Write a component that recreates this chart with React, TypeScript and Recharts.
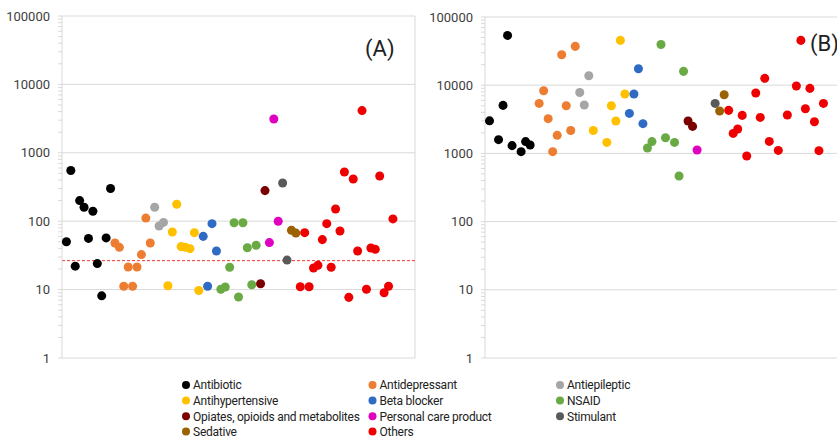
import React from "react";
import {
  ScatterChart,
  Scatter,
  XAxis,
  YAxis,
  ZAxis,
  CartesianGrid,
  ReferenceLine,
} from "recharts";

// ---------- data ----------
const categories = [
  "Antibiotic",
  "Antidepressant",
  "Antiepileptic",
  "Antihypertensive",
  "Beta blocker",
  "NSAID",
  "Opiates, opioids and metabolites",
  "Personal care product",
  "Stimulant",
  "Sedative",
  "Others",
];

const colors = [
  "#000000",
  "#ED7D31",
  "#A5A5A5",
  "#FFC000",
  "#2F6BC4",
  "#6AAA45",
  "#7A0000",
  "#E000C0",
  "#5A5A5A",
  "#9A6200",
  "#EE0000",
];

// Panel (A) values, consecutive samples per category
const antibioticA = [50, 550, 22, 200, 160, 56, 140, 24, 8.1, 57, 300];
const antidepressantA = [48, 41.5, 11.2, 21.4, 11.2, 21.4, 32.5, 111, 48];
const antiepilepticA = [160, 85, 96];
const antihypertensiveA = [11.4, 69.5, 177, 42.5, 41.5, 39.7, 68, 9.7];
const betaBlockerA = [60, 11.2, 92, 36.7];
const nsaidA = [10.1, 10.9, 21.2, 95, 7.8, 95, 41, 11.8, 44.5];
const opiatesA = [12.2, 280];
const personalCareA = [48.7, 3120, 100];
const stimulantA = [361, 27];
const sedativeA = [73.6, 67];
const othersA = [
  11, 68, 11, 20.7, 22.7, 53.8, 92, 21.2, 151, 72, 524, 7.7, 414, 36.7, 4140,
  10.1, 40.5, 38.8, 458, 9.0, 11.2, 108,
];

// Panel (B) values, same samples (null = not shown)
const antibioticB = [3000, null, 1590, 5060, 53700, 1300, null, 1060, 1490, 1330, null];
const antidepressantB = [5410, 8300, 3230, 1060, 1840, 28000, 5000, 2170, 37100];
const antiepilepticB = [7830, 5120, 13770];
const antihypertensiveB = [2170, null, null, 1450, 5000, 2990, 45400, 7430];
const betaBlockerB = [3860, 7430, 17460, 2730];
const nsaidB = [1200, 1490, null, 39600, 1700, null, 1450, 466, 15950];
const opiatesB = [2990, 2490];
const personalCareB = [1120, null, null];
const stimulantB = [null, 5410];
const sedativeB = [4190, 7260];
const othersB = [
  4275, 1963, 2280, 3610, 916, null, 7690, 3370, 12600, 1500, null, 1107, null,
  3656, null, 9730, 45400, 4520, 8980, 2917, 1097, 5410,
];

const seriesA = [
  antibioticA, antidepressantA, antiepilepticA, antihypertensiveA, betaBlockerA,
  nsaidA, opiatesA, personalCareA, stimulantA, sedativeA, othersA,
];
const seriesB = [
  antibioticB, antidepressantB, antiepilepticB, antihypertensiveB, betaBlockerB,
  nsaidB, opiatesB, personalCareB, stimulantB, sedativeB, othersB,
];

const thresholdA = 26.5;
const yMajor = [1, 10, 100, 1000, 10000, 100000];
const yTickLabels = ["1", "10", "100", "1000", "10000", "100000"];
const xDomain = [0, 80];
const panelLabels = ["(A)", "(B)"];

// ---------- helpers ----------
const yAll: number[] = [];
yMajor.forEach((d, i) => {
  if (i === yMajor.length - 1) {
    yAll.push(d);
  } else {
    for (let m = 1; m <= 9; m++) yAll.push(d * m);
  }
});

function buildData(series: (number | null)[][]) {
  let start = 1;
  return series.map((vals) => {
    const pts = vals
      .map((v, i) => (v == null ? null : { x: start + i, y: v }))
      .filter((p) => p !== null) as { x: number; y: number }[];
    start += vals.length;
    return pts;
  });
}

const dataA = buildData(seriesA);
const dataB = buildData(seriesB);

const FONT = "Roboto, 'Noto Sans', sans-serif";
const GRID = "#D9D9D9";

const YTick = (props: any) => {
  const { x, y, payload } = props;
  const idx = yMajor.indexOf(payload.value);
  if (idx < 0) return null;
  return (
    <text
      x={x}
      y={y}
      dy="0.36em"
      textAnchor="end"
      fill="#404040"
      fontSize={13}
      fontFamily={FONT}
    >
      {yTickLabels[idx]}
    </text>
  );
};

function Panel({
  data,
  width,
  height,
  margin,
  yWidth,
  showBorder,
  threshold,
}: {
  data: { x: number; y: number }[][];
  width: number;
  height: number;
  margin: any;
  yWidth: number;
  showBorder: boolean;
  threshold?: number;
}) {
  return (
    <ScatterChart width={width} height={height} margin={margin}>
      <CartesianGrid
        stroke={GRID}
        horizontalValues={yMajor}
        vertical={showBorder}
        verticalValues={showBorder ? [xDomain[1]] : undefined}
      />
      <XAxis type="number" dataKey="x" domain={xDomain} hide allowDataOverflow />
      <YAxis
        type="number"
        dataKey="y"
        scale="log"
        domain={[1, 100000]}
        allowDataOverflow
        ticks={yAll}
        interval={0}
        width={yWidth}
        tick={<YTick />}
        tickSize={4}
        tickMargin={8}
        tickLine={{ stroke: GRID }}
        axisLine={{ stroke: GRID }}
      />
      <ZAxis range={[64, 64]} />
      {threshold !== undefined && (
        <ReferenceLine
          y={threshold}
          stroke="#F03535"
          strokeDasharray="3 2"
          strokeWidth={1}
        />
      )}
      {data.map((pts, i) => (
        <Scatter
          key={categories[i]}
          name={categories[i]}
          data={pts}
          fill={colors[i]}
          isAnimationActive={false}
        />
      ))}
    </ScatterChart>
  );
}

const legendColX = [186, 372.5, 560];
const legendRowY = [385, 400.6, 416.2, 431.6];

export default function App() {
  return (
    <div
      style={{
        position: "absolute",
        left: 0,
        top: 0,
        width: 837,
        height: 437,
        overflow: "hidden",
        background: "#fff",
      }}
    >
      <div style={{ position: "absolute", left: 0, top: 0 }}>
        <Panel
          data={dataA}
          width={430}
          height={370}
          margin={{ top: 16, right: 15, bottom: 12, left: 0 }}
          yWidth={62}
          showBorder={true}
          threshold={thresholdA}
        />
      </div>
      <div style={{ position: "absolute", left: 420, top: 0 }}>
        <Panel
          data={dataB}
          width={430}
          height={370}
          margin={{ top: 17, right: 4, bottom: 12, left: 0 }}
          yWidth={65}
          showBorder={false}
        />
      </div>
      <svg
        width={837}
        height={437}
        style={{ position: "absolute", left: 0, top: 0, pointerEvents: "none" }}
      >
        <text x={365} y={56} fontSize={22} fontFamily={FONT} fill="#202020">
          {panelLabels[0]}
        </text>
        <text x={810} y={51} fontSize={22} fontFamily={FONT} fill="#202020">
          {panelLabels[1]}
        </text>
        {categories.map((name, i) => {
          const col = i % 3;
          const row = Math.floor(i / 3);
          const cx = legendColX[col];
          const cy = legendRowY[row];
          return (
            <g key={name}>
              <circle cx={cx} cy={cy} r={4} fill={colors[i]} />
              <text
                x={cx + 7}
                y={cy}
                dy="0.36em"
                fontSize={12}
                letterSpacing={-0.25}
                fontFamily={FONT}
                fill="#222"
              >
                {name}
              </text>
            </g>
          );
        })}
      </svg>
    </div>
  );
}
